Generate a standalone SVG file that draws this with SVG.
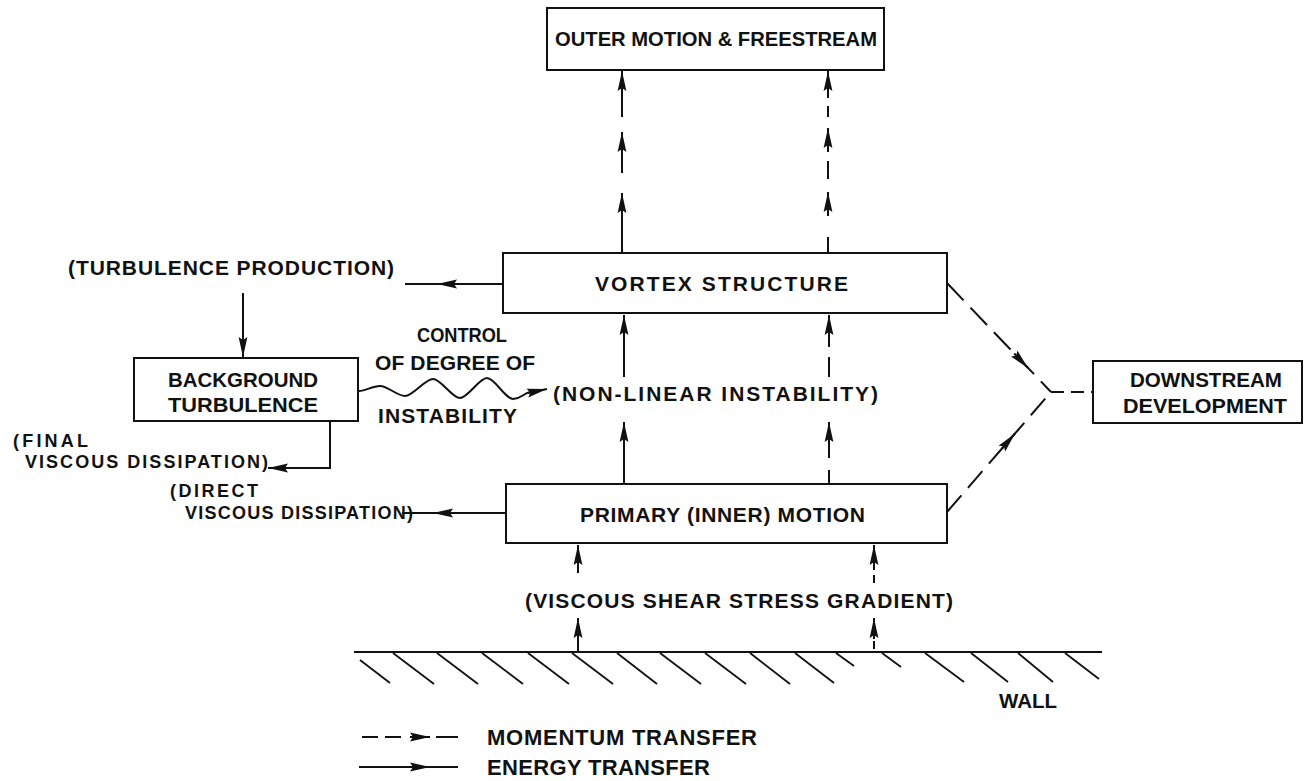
<svg xmlns="http://www.w3.org/2000/svg" width="1305" height="781" viewBox="0 0 1305 781">
<defs>
<marker id="ah" markerUnits="userSpaceOnUse" viewBox="0 0 20 10" markerWidth="20" markerHeight="10" refX="20" refY="5" orient="auto"><path d="M0,0.6 L20,5 L0,9.4 L3,5 Z" fill="#111"/></marker>
<style>
text{font-family:"Liberation Sans",Arial,sans-serif;font-weight:bold;font-size:21px;fill:#111}
.box{fill:none;stroke:#111;stroke-width:2}
.ln{fill:none;stroke:#111;stroke-width:2}
.a{marker-end:url(#ah)}
.hatch line{stroke:#111;stroke-width:1.8}
.lg{font-size:22px}
.sm{font-size:18px}
</style>
</defs>
<rect width="1305" height="781" fill="#fff"/>

<g id="outer-motion">
<rect class="box" x="547" y="8" width="337" height="62"/>
<text x="555" y="46" textLength="322" lengthAdjust="spacingAndGlyphs">OUTER MOTION &amp; FREESTREAM</text>
</g>
<g id="vortex-structure">
<rect class="box" x="503" y="253" width="444" height="60"/>
<text x="595" y="291" textLength="253" lengthAdjust="spacing">VORTEX STRUCTURE</text>
</g>
<g id="background-turbulence">
<rect class="box" x="134" y="358" width="224" height="63"/>
<text x="168" y="387" textLength="150" lengthAdjust="spacingAndGlyphs">BACKGROUND</text>
<text x="168" y="412" textLength="150" lengthAdjust="spacingAndGlyphs">TURBULENCE</text>
</g>
<g id="downstream-development">
<rect class="box" x="1093" y="361" width="209" height="62"/>
<text x="1130" y="387" textLength="152" lengthAdjust="spacingAndGlyphs">DOWNSTREAM</text>
<text x="1123" y="413" textLength="164" lengthAdjust="spacingAndGlyphs">DEVELOPMENT</text>
</g>
<g id="primary-motion">
<rect class="box" x="506" y="484" width="441" height="59"/>
<text x="580" y="522" textLength="285" lengthAdjust="spacing">PRIMARY (INNER) MOTION</text>
</g>

<g id="turbulence-production"><text x="68" y="275" textLength="326" lengthAdjust="spacing">(TURBULENCE PRODUCTION)</text></g>
<g id="control-label">
<text x="417" y="342" textLength="90" lengthAdjust="spacingAndGlyphs">CONTROL</text>
<text x="375" y="370" textLength="160" lengthAdjust="spacing">OF DEGREE OF</text>
<text x="378" y="423" textLength="139" lengthAdjust="spacing">INSTABILITY</text>
</g>
<g id="nonlinear-instability"><text x="553" y="401" textLength="325" lengthAdjust="spacing">(NON-LINEAR INSTABILITY)</text></g>
<g id="final-dissipation">
<text class="sm" x="13" y="447" textLength="75" lengthAdjust="spacing">(FINAL</text>
<text class="sm" x="25" y="468" textLength="243" lengthAdjust="spacing">VISCOUS DISSIPATION)</text>
</g>
<g id="direct-dissipation">
<text class="sm" x="170" y="497" textLength="88" lengthAdjust="spacing">(DIRECT</text>
<text class="sm" x="185" y="519" textLength="228" lengthAdjust="spacing">VISCOUS DISSIPATION)</text>
</g>
<g id="viscous-shear"><text x="525" y="608" textLength="428" lengthAdjust="spacing">(VISCOUS SHEAR STRESS GRADIENT)</text></g>

<g id="wall">
<line x1="354" y1="652" x2="1102" y2="652" stroke="#111" stroke-width="2"/>
<g class="hatch">
<line x1="360" y1="660" x2="390" y2="683"/>
<line x1="393" y1="653" x2="434" y2="684"/>
<line x1="437" y1="653" x2="478" y2="684"/>
<line x1="482" y1="653" x2="523" y2="684"/>
<line x1="528" y1="653" x2="569" y2="684"/>
<line x1="572" y1="653" x2="613" y2="684"/>
<line x1="617" y1="653" x2="657" y2="684"/>
<line x1="660" y1="653" x2="701" y2="684"/>
<line x1="705" y1="653" x2="746" y2="684"/>
<line x1="750" y1="653" x2="790" y2="684"/>
<line x1="795" y1="653" x2="834" y2="683"/>
<line x1="836" y1="653" x2="854" y2="666"/>
<line x1="882" y1="653" x2="901" y2="667"/>
<line x1="925" y1="653" x2="964" y2="682"/>
<line x1="971" y1="653" x2="1008" y2="682"/>
<line x1="1018" y1="653" x2="1053" y2="682"/>
<line x1="1065" y1="653" x2="1099" y2="679"/>
</g>
<text x="999" y="708" textLength="58" lengthAdjust="spacingAndGlyphs">WALL</text>
</g>

<g id="connectors" class="ln">
<path class="a" d="M622,253 V193"/>
<path class="a" d="M622,173 V132"/>
<path class="a" d="M622,117 V71"/>
<path d="M828,253 V237"/>
<path class="a" d="M828,216 V192"/>
<path d="M828,179 V161"/>
<path class="a" d="M828,152 V128"/>
<path d="M828,117 V106"/>
<path class="a" d="M828,98 V71"/>

<path class="a" d="M624,377 V315"/>
<path d="M829,377 V357"/>
<path class="a" d="M829,347 V315"/>
<path class="a" d="M624,484 V422"/>
<path d="M829,484 V470"/>
<path class="a" d="M829,458 V422"/>

<path class="a" d="M578,573 V545"/>
<path d="M874,583 V575"/>
<path class="a" d="M874,570 V545"/>
<path class="a" d="M578,652 V618"/>
<path d="M874,649 V641"/>
<path class="a" d="M874,639 V618"/>

<path d="M503,284 H405"/>
<path class="a" d="M457,284 H437"/>
<path class="a" d="M243,293 V357"/>
<path class="a" d="M330,422 V468 H268"/>
<path d="M506,513 H402"/>
<path class="a" d="M453,513 H433"/>

<path d="M359,391 C366,391 372,386 380,386 S397,396 405,396 S425,379 433,379 S452,398 460,398 S479,378 487,378 S505,399 513,399 S522,394 530,392"/>
<path class="a" d="M528,393 L547,389"/>

<path d="M947,283 L1051,392" stroke-dasharray="24 10"/>
<path d="M947,512 L1051,392" stroke-dasharray="22 10"/>
<path d="M1051,392 H1093" stroke-dasharray="13 7"/>
<path class="a" d="M1014.2,353.5 L1028,368"/>
<path class="a" d="M1001.9,448.6 L1015,433.5"/>
</g>

<g id="legend">
<g class="ln">
<path d="M362,737 H378"/>
<path d="M385,737 H401"/>
<path class="a" d="M410,737 H430"/>
<path d="M436,737 H458"/>
<path d="M359,767 H458"/>
<path class="a" d="M410,767 H430"/>
</g>
<text class="lg" x="487" y="745" textLength="270" lengthAdjust="spacing">MOMENTUM TRANSFER</text>
<text class="lg" x="487" y="775" textLength="223" lengthAdjust="spacing">ENERGY TRANSFER</text>
</g>
</svg>
